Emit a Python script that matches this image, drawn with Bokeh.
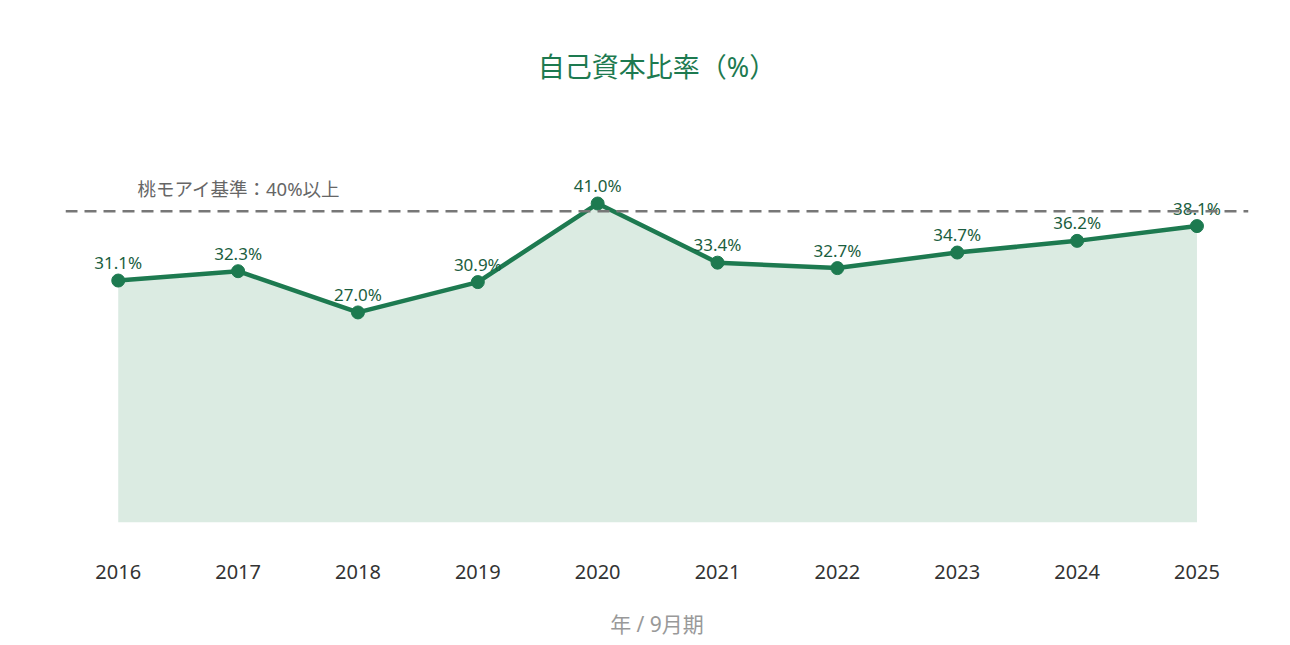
from bokeh.plotting import figure
from bokeh.models import ColumnDataSource, Span, FixedTicker, Range1d, Title
from bokeh.core.properties import value
from bokeh.embed import file_html
from bokeh.resources import INLINE

# Equity ratio by fiscal year (September year-end)
years = [2016, 2017, 2018, 2019, 2020, 2021, 2022, 2023, 2024, 2025]
ratios = [31.1, 32.3, 27.0, 30.9, 41.0, 33.4, 32.7, 34.7, 36.2, 38.1]
benchmark = 40.0
benchmark_text = "桃モアイ基準：40%以上"
title_text = "自己資本比率（%）"
x_label = "年 / 9月期"

FONT = "Noto Sans, Noto Sans CJK JP"
GREEN = "#1d7a50"

src = ColumnDataSource(dict(
    x=years,
    y=ratios,
    base=[0] * len(years),
    label=[f"{v:.1f}%" for v in ratios],
))

p = figure(
    width=1290, height=645,
    output_backend="svg", toolbar_location=None,
    x_range=Range1d(2015.56, 2025.43), y_range=Range1d(0, 50),
    min_border_left=65, min_border_right=42,
    min_border_top=133, min_border_bottom=123,
    outline_line_color=None, background_fill_color="white",
    border_fill_color="white",
)
p.title = Title(text=title_text, align="center", text_font=FONT,
                text_font_size="27px", text_color=GREEN,
                text_font_style="normal", vertical_align="top", standoff=94)

p.grid.visible = False
p.yaxis.visible = False

ax = p.xaxis[0]
ax.ticker = FixedTicker(ticks=years)
ax.axis_line_color = None
ax.major_tick_line_color = None
ax.minor_tick_line_color = None
ax.major_label_standoff = 36
ax.major_label_text_font = FONT
ax.major_label_text_font_size = "20px"
ax.major_label_text_color = "#333333"
ax.axis_label = x_label
ax.axis_label_text_font = FONT
ax.axis_label_text_font_size = "21px"
ax.axis_label_text_font_style = "normal"
ax.axis_label_text_color = "#999999"
ax.axis_label_standoff = 28

# shaded area under the line
p.varea(x="x", y1="base", y2="y", source=src, fill_color="#dbebe2")

# benchmark line
p.add_layout(Span(location=benchmark, dimension="width", line_color="#777777",
                  line_width=2.5, line_dash="12 7"))
p.text(x=[2016.16], y=[42.9], text=[benchmark_text], text_font=value(FONT),
       text_font_size="18.5px", text_color="#666666",
       text_baseline="middle", text_align="left")

p.line(x="x", y="y", source=src, line_color=GREEN, line_width=4.5)
p.scatter(x="x", y="y", source=src, size=13, fill_color=GREEN,
          line_color=GREEN)

p.text(x="x", y="y", text="label", source=src, y_offset=-18,
       text_font=value(FONT), text_font_size="17px", text_color="#1b5e40",
       text_align="center", text_baseline="middle")

open("out.html", "w").write(file_html(p, INLINE))
